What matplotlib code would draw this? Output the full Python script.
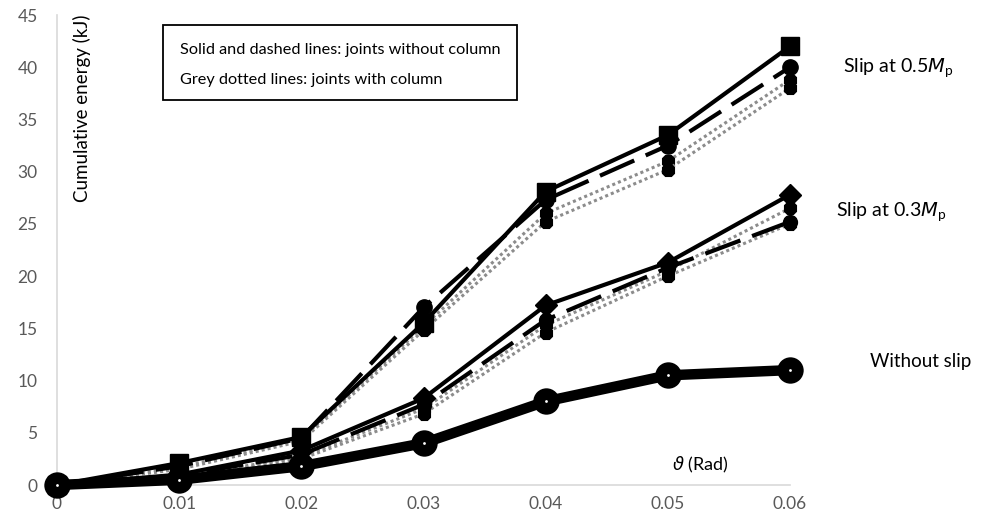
import matplotlib
matplotlib.use("Agg")
import matplotlib.pyplot as plt
from matplotlib.patches import Rectangle

plt.rcParams['font.family'] = ['Lato', 'DejaVu Sans']

rotation = [0, 0.01, 0.02, 0.03, 0.04, 0.05, 0.06]

# Slip at 0.5Mp
s05_solid = [0, 2.1, 4.6, 15.5, 28.1, 33.5, 42.0]
s05_dashed = [0, 1.8, 4.5, 17.0, 27.3, 32.5, 40.0]
s05_grey_a = [0, 1.7, 4.4, 15.2, 26.0, 31.0, 38.8]
s05_grey_b = [0, 1.5, 4.2, 14.8, 25.2, 30.2, 38.0]

# Slip at 0.3Mp
s03_solid = [0, 1.0, 3.3, 8.3, 17.2, 21.3, 27.8]
s03_dashed = [0, 0.9, 2.9, 7.7, 15.8, 20.8, 25.2]
s03_grey_a = [0, 0.8, 2.7, 7.3, 15.3, 20.5, 26.5]
s03_grey_b = [0, 0.7, 2.5, 6.8, 14.6, 20.0, 25.0]

# Without slip
no_slip = [0, 0.5, 1.8, 4.0, 8.0, 10.5, 11.0]

yticks = [0, 5, 10, 15, 20, 25, 30, 35, 40, 45]
xticks = [0, 0.01, 0.02, 0.03, 0.04, 0.05, 0.06]
xticklabels = ["0", "0.01", "0.02", "0.03", "0.04", "0.05", "0.06"]

fig = plt.figure(figsize=(9.83, 5.30), dpi=100)
ax = fig.add_axes([57/983, 45/530, (790-57)/983, (485-15)/530])

grey = '#8c8c8c'
# grey dotted lines (with column)
for data in [s05_grey_a, s05_grey_b, s03_grey_a, s03_grey_b]:
    ax.plot(rotation, data, color=grey, lw=2.2, linestyle=(0, (1, 1)),
            marker='8', markersize=10, markerfacecolor='black',
            markeredgecolor='black', markeredgewidth=0.8, clip_on=False, zorder=3)

# dashed lines
ax.plot(rotation, s05_dashed, color='black', lw=3, linestyle=(0, (9, 3)),
        marker='o', markersize=11, markerfacecolor='black', markeredgecolor='black',
        clip_on=False, zorder=4)
ax.plot(rotation, s03_dashed, color='black', lw=3, linestyle=(0, (9, 3)),
        marker='o', markersize=10, markerfacecolor='black', markeredgecolor='black',
        clip_on=False, zorder=4)

# solid lines
ax.plot(rotation, s05_solid, color='black', lw=3, marker='s', markersize=13,
        clip_on=False, zorder=5)
ax.plot(rotation, s03_solid, color='black', lw=3, marker='D', markersize=11,
        clip_on=False, zorder=5)

# without slip
ax.plot(rotation, no_slip, color='black', lw=7.5, marker='o', markersize=19,
        markeredgewidth=0, clip_on=False, zorder=6)
ax.plot(rotation, no_slip, linestyle='none', marker='o', markersize=2,
        markerfacecolor='white', markeredgewidth=0, clip_on=False, zorder=7)

ax.set_xlim(0, 0.06)
ax.set_ylim(0, 45)
ax.set_xticks(xticks)
ax.set_xticklabels(xticklabels)
ax.set_yticks(yticks)
for s in ['top', 'right']:
    ax.spines[s].set_visible(False)
for s in ['left', 'bottom']:
    ax.spines[s].set_color('#d9d9d9')
    ax.spines[s].set_linewidth(1.2)
ax.tick_params(axis='both', length=0, labelsize=12.5, colors='#595959', pad=8)
ax.tick_params(axis='y', pad=14)

fig.text(82/983, 1 - 15/530, 'Cumulative energy (kJ)', rotation=90, ha='center', va='top',
         fontsize=13.5, color='black')

fig.text(672/983, 1 - 465/530, r'$\vartheta$ (Rad)', fontsize=13, ha='left', va='center')

fig.text(843/983, 1 - 68/530, r'Slip at 0.5$M_\mathregular{p}$', fontsize=14, ha='left', va='center')
fig.text(836/983, 1 - 212/530, r'Slip at 0.3$M_\mathregular{p}$', fontsize=14, ha='left', va='center')
fig.text(870/983, 1 - 362/530, 'Without slip', fontsize=13.5, ha='left', va='center')

fig.patches.append(Rectangle((163/983, 1 - 100/530), 354/983, 75/530,
                             transform=fig.transFigure, facecolor='white',
                             edgecolor='black', lw=1.3, zorder=10))
fig.text(180/983, 1 - 50/530, 'Solid and dashed lines: joints without column',
         fontsize=11.7, ha='left', va='center', zorder=11)
fig.text(180/983, 1 - 80/530, 'Grey dotted lines: joints with column',
         fontsize=11.7, ha='left', va='center', zorder=11)

fig.savefig('out.png', dpi=100)
